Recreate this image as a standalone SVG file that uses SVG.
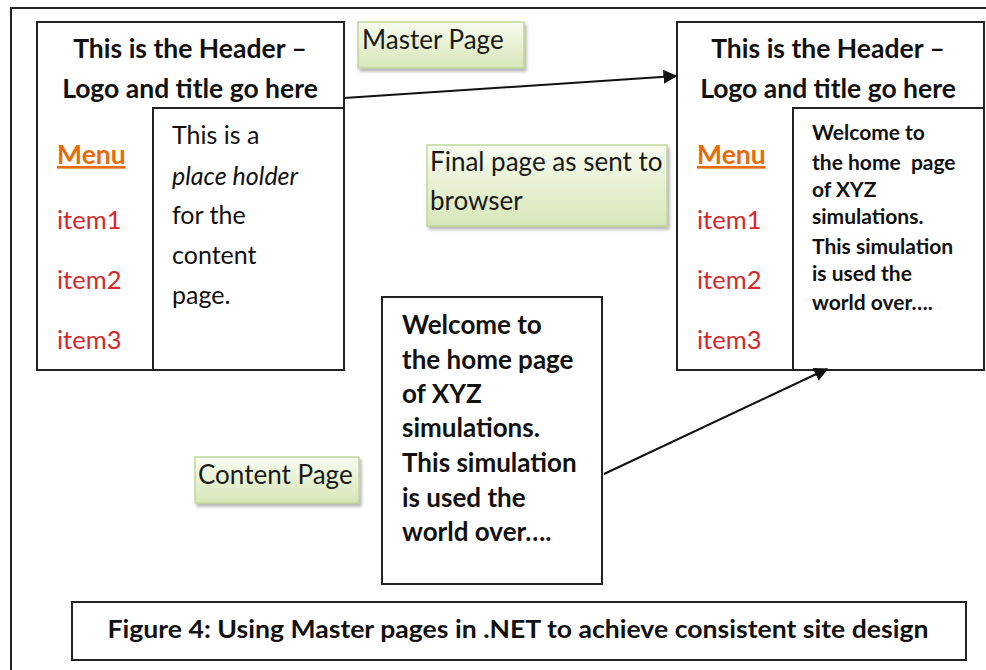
<svg xmlns="http://www.w3.org/2000/svg" width="986" height="670" viewBox="0 0 986 670">
  <style>
    text { font-family: Lato, "Open Sans", "Liberation Sans", sans-serif; fill: #111; }
    .box { fill: #fff; stroke: #222; stroke-width: 2; }
    .frame { fill: none; stroke: #222; stroke-width: 2; }
    .head { font-size: 26.5px; font-weight: bold; text-anchor: middle; }
    .menu { font-size: 26.5px; font-weight: bold; fill: #E46C0A; text-decoration: underline; }
    .item { font-size: 25.5px; fill: #D42A2A; }
    .body { font-size: 25px; }
    .small { font-size: 21px; font-weight: bold; }
    .big { font-size: 26px; font-weight: bold; }
    .tag { fill: url(#greenFill); stroke: #C3D69B; stroke-width: 1.5; filter: url(#shadow); }
    .tagtext { font-size: 26px; fill: #1a1a1a; }
    .caption { font-size: 25px; font-weight: bold; text-anchor: middle; }
    .conn { stroke: #111; stroke-width: 2; fill: none; marker-end: url(#arrow); }
  </style>
  <defs>
    <linearGradient id="greenFill" x1="0" y1="0" x2="0" y2="1">
      <stop offset="0" stop-color="#F7FBEF"/>
      <stop offset="1" stop-color="#D7E6B8"/>
    </linearGradient>
    <filter id="shadow" x="-10%" y="-10%" width="130%" height="140%">
      <feDropShadow dx="2" dy="3" stdDeviation="1.5" flood-color="#888" flood-opacity="0.6"/>
    </filter>
    <marker id="arrow" viewBox="0 0 10 10" refX="9" refY="5" markerWidth="7" markerHeight="7" orient="auto" markerUnits="strokeWidth">
      <path d="M0,0 L10,5 L0,10 z" fill="#111"/>
    </marker>
  </defs>

  <!-- outer frame -->
  <path class="frame" d="M11,670 L11,8 L986,8"/>

  <!-- master page layout -->
  <g id="master-page">
    <rect class="box" x="37" y="22" width="307" height="348"/>
    <rect class="box" x="153" y="108" width="191" height="262"/>
    <text class="head" x="190" y="58">This is the Header –</text>
    <text class="head" x="190" y="98">Logo and title go here</text>
    <text class="menu" x="57" y="164">Menu</text>
    <text class="item" x="57" y="229">item1</text>
    <text class="item" x="57" y="289">item2</text>
    <text class="item" x="57" y="349">item3</text>
    <text class="body" x="172" y="144">This is a</text>
    <text class="body" x="172" y="185" font-style="italic">place holder</text>
    <text class="body" x="172" y="224">for the</text>
    <text class="body" x="172" y="264">content</text>
    <text class="body" x="172" y="304">page.</text>
  </g>

  <!-- final page layout -->
  <g id="final-page">
    <rect class="box" x="677" y="22" width="307" height="348"/>
    <rect class="box" x="793" y="108" width="191" height="262"/>
    <text class="head" x="828" y="58">This is the Header –</text>
    <text class="head" x="828" y="98">Logo and title go here</text>
    <text class="menu" x="697" y="164">Menu</text>
    <text class="item" x="697" y="229">item1</text>
    <text class="item" x="697" y="289">item2</text>
    <text class="item" x="697" y="349">item3</text>
    <text class="small" x="812" y="140">Welcome to</text>
    <text class="small" x="812" y="170" xml:space="preserve">the home  page</text>
    <text class="small" x="812" y="197">of XYZ</text>
    <text class="small" x="812" y="224">simulations.</text>
    <text class="small" x="812" y="254">This simulation</text>
    <text class="small" x="812" y="281">is used the</text>
    <text class="small" x="812" y="310">world over….</text>
  </g>

  <!-- content page -->
  <g id="content-page">
    <rect class="box" x="382" y="297" width="220" height="287"/>
    <text class="big" x="402" y="334">Welcome to</text>
    <text class="big" x="402" y="369">the home page</text>
    <text class="big" x="402" y="403">of XYZ</text>
    <text class="big" x="402" y="437">simulations.</text>
    <text class="big" x="402" y="472">This simulation</text>
    <text class="big" x="402" y="507">is used the</text>
    <text class="big" x="402" y="541">world over….</text>
  </g>

  <!-- labels -->
  <g id="label-master">
    <rect class="tag" x="358" y="22" width="166" height="46"/>
    <text class="tagtext" x="362" y="49">Master Page</text>
  </g>
  <g id="label-final">
    <rect class="tag" x="427" y="145" width="240" height="81"/>
    <text class="tagtext" x="430" y="171">Final page as sent to</text>
    <text class="tagtext" x="430" y="210">browser</text>
  </g>
  <g id="label-content">
    <rect class="tag" x="195" y="457" width="164" height="46"/>
    <text class="tagtext" x="198" y="484">Content Page</text>
  </g>

  <!-- caption -->
  <g id="caption">
    <rect class="box" x="72" y="602" width="894" height="58"/>
    <text class="caption" x="518" y="638" textLength="821" lengthAdjust="spacingAndGlyphs">Figure 4: Using Master pages in .NET to achieve consistent site design</text>
  </g>

  <!-- connectors -->
  <g id="connectors">
    <line class="conn" x1="344" y1="98" x2="676" y2="76"/>
    <line class="conn" x1="604" y1="474" x2="827" y2="369"/>
  </g>
</svg>
